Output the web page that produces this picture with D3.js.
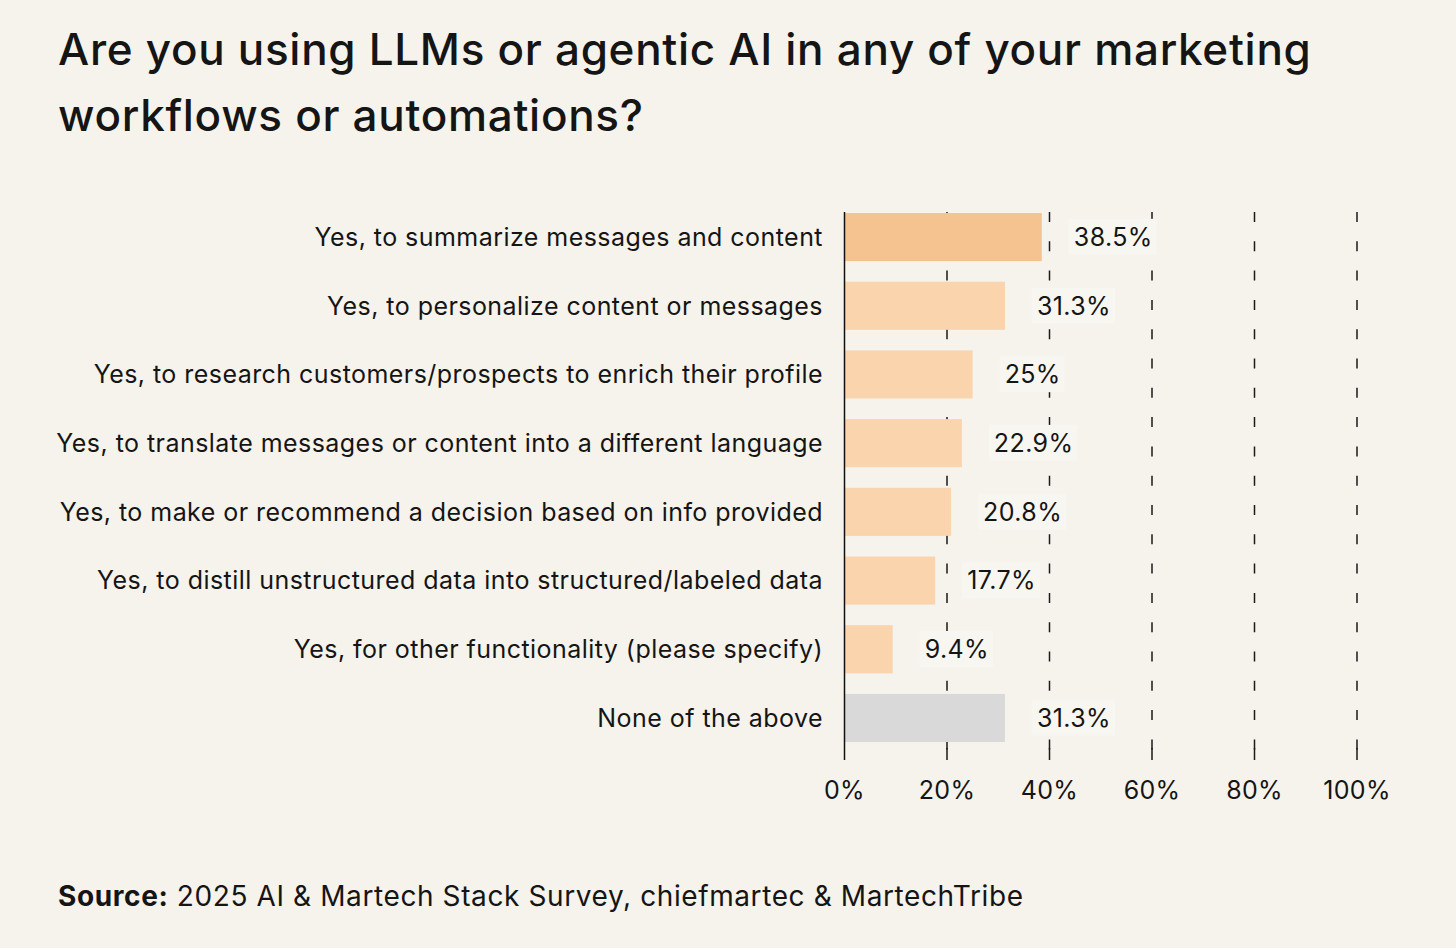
<!DOCTYPE html>
<html>
<head>
<meta charset="utf-8">
<script src="https://cdn.jsdelivr.net/npm/d3@7"></script>
<style>
  body { margin: 0; background: #f6f3ec; }
  text { font-family: Inter, "Noto Sans", sans-serif; fill: #151515; }
</style>
</head>
<body>
<div id="chart-container"></div>
<script>
// survey answers, top to bottom
const categories = [
    "Yes, to summarize messages and content",
    "Yes, to personalize content or messages",
    "Yes, to research customers/prospects to enrich their profile",
    "Yes, to translate messages or content into a different language",
    "Yes, to make or recommend a decision based on info provided",
    "Yes, to distill unstructured data into structured/labeled data",
    "Yes, for other functionality (please specify)",
    "None of the above"
];
const values = [38.5, 31.3, 25, 22.9, 20.8, 17.7, 9.4, 31.3];
const valueLabels = ["38.5%", "31.3%", "25%", "22.9%", "20.8%", "17.7%", "9.4%", "31.3%"];
const ticks = [0, 20, 40, 60, 80, 100];
const titleLines = [
    "Are you using LLMs or agentic AI in any of your marketing",
    "workflows or automations?"
];

const svgWidth = 1456;
const svgHeight = 948;

const svg = d3.select("#chart-container")
    .append("svg")
    .attr("width", svgWidth)
    .attr("height", svgHeight);

svg.append("rect")
    .attr("width", svgWidth)
    .attr("height", svgHeight)
    .attr("fill", "#f6f3ec");

const x = d3.scaleLinear()
    .domain([0, 100])
    .range([844.5, 1357]);

const y = d3.scaleBand()
    .domain(categories)
    .range([202.7, 752.3])
    .paddingInner(0.3)
    .paddingOuter(0.15);

const gridTop = 212;
const gridBottom = 760;

// dashed grid lines
svg.selectAll(".grid")
    .data(ticks.slice(1))
    .enter()
    .append("line")
    .attr("class", "grid")
    .attr("x1", d => x(d))
    .attr("x2", d => x(d))
    .attr("y1", gridTop)
    .attr("y2", gridBottom)
    .attr("stroke", "#1a1a1a")
    .attr("stroke-width", 1.5)
    .attr("stroke-dasharray", "10,19.3");

// small solid ticks at the bottom
svg.selectAll(".tickmark")
    .data(ticks.slice(1))
    .enter()
    .append("line")
    .attr("x1", d => x(d))
    .attr("x2", d => x(d))
    .attr("y1", 748)
    .attr("y2", gridBottom)
    .attr("stroke", "#1a1a1a")
    .attr("stroke-width", 1.5);

// bars
svg.selectAll(".bar")
    .data(categories)
    .enter()
    .append("rect")
    .attr("class", "bar")
    .attr("x", x(0))
    .attr("y", d => y(d))
    .attr("width", (d, i) => x(values[i]) - x(0))
    .attr("height", y.bandwidth())
    .attr("fill", (d, i) => i === 0 ? "#f5c38f" : (i === categories.length - 1 ? "#d9d9d9" : "#f9d4ad"));

// vertical axis line
svg.append("line")
    .attr("x1", x(0))
    .attr("x2", x(0))
    .attr("y1", gridTop)
    .attr("y2", gridBottom)
    .attr("stroke", "#111")
    .attr("stroke-width", 1.5);

// category labels
svg.selectAll(".catLabel")
    .data(categories)
    .enter()
    .append("text")
    .attr("class", "catLabel")
    .attr("x", 823)
    .attr("y", d => y(d) + y.bandwidth() / 2)
    .attr("dy", "0.35em")
    .attr("text-anchor", "end")
    .style("font-size", "25px")
    .style("letter-spacing", "0.45px")
    .text(d => d);

// value labels with a light box behind them
const valueGroups = svg.selectAll(".valueLabel")
    .data(categories)
    .enter()
    .append("g")
    .attr("class", "valueLabel");

valueGroups.append("text")
    .attr("x", (d, i) => x(values[i]) + 32)
    .attr("y", d => y(d) + y.bandwidth() / 2)
    .attr("dy", "0.35em")
    .style("font-size", "25px")
    .style("letter-spacing", "0.4px")
    .text((d, i) => valueLabels[i]);

valueGroups.each(function () {
    const g = d3.select(this);
    const bb = g.select("text").node().getBBox();
    g.insert("rect", "text")
        .attr("x", bb.x - 5)
        .attr("y", bb.y + bb.height / 2 - 18)
        .attr("width", bb.width + 9)
        .attr("height", 36)
        .attr("fill", "#f8f6f1");
});

// x tick labels
svg.selectAll(".tickLabel")
    .data(ticks)
    .enter()
    .append("text")
    .attr("class", "tickLabel")
    .attr("x", d => x(d))
    .attr("y", 799)
    .attr("text-anchor", "middle")
    .style("font-size", "25px")
    .style("letter-spacing", "0.3px")
    .text(d => `${d}%`);

// title
svg.selectAll(".title")
    .data(titleLines)
    .enter()
    .append("text")
    .attr("class", "title")
    .attr("x", 58)
    .attr("y", (d, i) => 65 + i * 66)
    .style("font-size", "44px")
    .style("font-weight", 500)
    .style("letter-spacing", "0.7px")
    .text(d => d);

// source line
const source = svg.append("text")
    .attr("x", 58)
    .attr("y", 906)
    .style("font-size", "28px")
    .style("letter-spacing", "0.6px");
source.append("tspan")
    .style("font-weight", 700)
    .text("Source:");
source.append("tspan")
    .text(" 2025 AI & Martech Stack Survey, chiefmartec & MartechTribe");
</script>
</body>
</html>
